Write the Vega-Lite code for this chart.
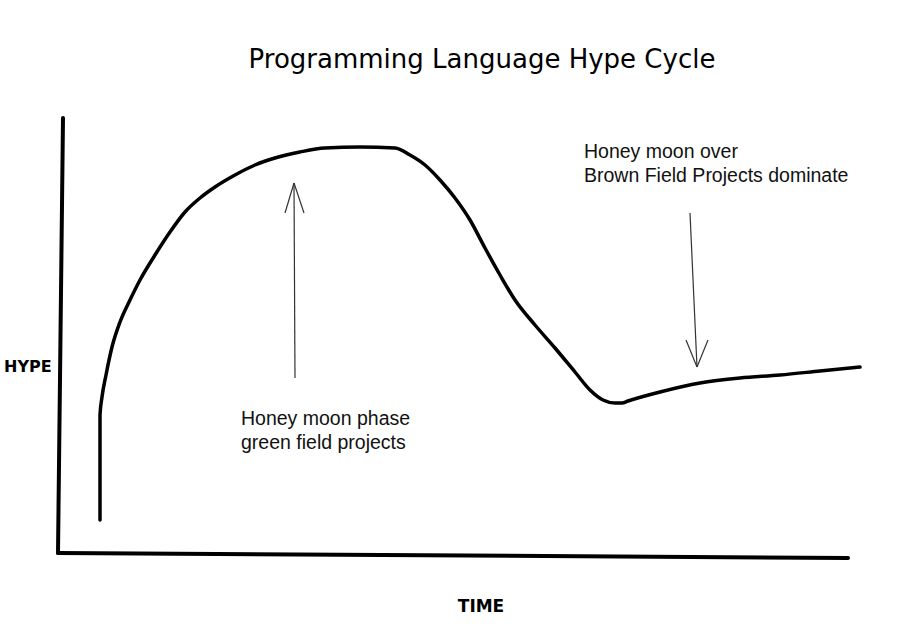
{
  "$schema": "https://vega.github.io/schema/vega-lite/v6.json",
  "width": 900,
  "height": 547,
  "autosize": {"type": "none"},
  "padding": {"top": 90, "left": 0, "right": 0, "bottom": 0},
  "background": "white",
  "config": {"view": {"stroke": null}},
  "title": {
    "text": "Programming Language Hype Cycle",
    "font": "DejaVu Sans",
    "fontSize": 26,
    "fontWeight": "normal",
    "color": "black",
    "anchor": "middle",
    "dx": 32,
    "dy": 3,
    "offset": 20
  },
  "datasets": {
    "curve": [
      {"time": 100, "hype": 117}, {"time": 100, "hype": 222}, {"time": 102, "hype": 240},
      {"time": 106, "hype": 262}, {"time": 112, "hype": 290}, {"time": 120, "hype": 315},
      {"time": 130, "hype": 337}, {"time": 140, "hype": 357}, {"time": 155, "hype": 382},
      {"time": 170, "hype": 405}, {"time": 185, "hype": 425}, {"time": 200, "hype": 439},
      {"time": 215, "hype": 450}, {"time": 235, "hype": 462}, {"time": 255, "hype": 472},
      {"time": 275, "hype": 479}, {"time": 300, "hype": 485}, {"time": 325, "hype": 489},
      {"time": 360, "hype": 490}, {"time": 395, "hype": 489}, {"time": 410, "hype": 482},
      {"time": 425, "hype": 472}, {"time": 440, "hype": 457}, {"time": 455, "hype": 439},
      {"time": 470, "hype": 417}, {"time": 485, "hype": 389}, {"time": 500, "hype": 362},
      {"time": 515, "hype": 337}, {"time": 535, "hype": 312}, {"time": 555, "hype": 289},
      {"time": 575, "hype": 265}, {"time": 590, "hype": 247}, {"time": 603, "hype": 237},
      {"time": 615, "hype": 234}, {"time": 622, "hype": 234}, {"time": 628, "hype": 236},
      {"time": 660, "hype": 245}, {"time": 700, "hype": 254}, {"time": 740, "hype": 259},
      {"time": 780, "hype": 262}, {"time": 820, "hype": 266}, {"time": 860, "hype": 270}
    ],
    "axes": [
      {"t1": 63, "h1": 519, "t2": 58, "h2": 84},
      {"t1": 58, "h1": 84, "t2": 848, "h2": 79}
    ],
    "arrows": [
      {"t1": 295, "h1": 259, "t2": 294, "h2": 454},
      {"t1": 294, "h1": 454, "t2": 285, "h2": 424},
      {"t1": 294, "h1": 454, "t2": 304, "h2": 424},
      {"t1": 690, "h1": 424, "t2": 697, "h2": 270},
      {"t1": 697, "h1": 270, "t2": 686, "h2": 297},
      {"t1": 697, "h1": 270, "t2": 708, "h2": 297}
    ],
    "notes": [
      {"time": 241, "hype": 212, "note": "Honey moon phase\ngreen field projects"},
      {"time": 584, "hype": 479, "note": "Honey moon over\nBrown Field Projects dominate"}
    ],
    "ylabel": [{"time": 4, "hype": 265, "label": "HYPE"}],
    "xlabel": [{"time": 481, "hype": 25, "label": "TIME"}]
  },
  "layer": [
    {
      "data": {"name": "axes"},
      "mark": {"type": "rule", "strokeWidth": 4, "color": "black", "strokeCap": "round"},
      "encoding": {
        "x": {"field": "t1", "type": "quantitative", "scale": {"domain": [0, 900]}, "axis": null},
        "y": {"field": "h1", "type": "quantitative", "scale": {"domain": [0, 547]}, "axis": null},
        "x2": {"field": "t2"},
        "y2": {"field": "h2"}
      }
    },
    {
      "data": {"name": "curve"},
      "mark": {"type": "line", "strokeWidth": 3.5, "color": "black", "interpolate": "monotone", "strokeJoin": "round", "strokeCap": "round"},
      "encoding": {
        "x": {"field": "time", "type": "quantitative", "scale": {"domain": [0, 900]}, "axis": null},
        "y": {"field": "hype", "type": "quantitative", "scale": {"domain": [0, 547]}, "axis": null},
        "order": {"field": "time", "type": "quantitative"}
      }
    },
    {
      "data": {"name": "arrows"},
      "mark": {"type": "rule", "strokeWidth": 1.2, "color": "#333333"},
      "encoding": {
        "x": {"field": "t1", "type": "quantitative", "scale": {"domain": [0, 900]}, "axis": null},
        "y": {"field": "h1", "type": "quantitative", "scale": {"domain": [0, 547]}, "axis": null},
        "x2": {"field": "t2"},
        "y2": {"field": "h2"}
      }
    },
    {
      "data": {"name": "notes"},
      "mark": {"type": "text", "align": "left", "baseline": "alphabetic", "font": "Liberation Sans", "fontSize": 19.5, "lineHeight": 24, "lineBreak": "\n", "color": "#111111"},
      "encoding": {
        "x": {"field": "time", "type": "quantitative", "scale": {"domain": [0, 900]}, "axis": null},
        "y": {"field": "hype", "type": "quantitative", "scale": {"domain": [0, 547]}, "axis": null},
        "text": {"field": "note"}
      }
    },
    {
      "data": {"name": "ylabel"},
      "mark": {"type": "text", "align": "left", "baseline": "alphabetic", "font": "DejaVu Sans", "fontSize": 16, "fontWeight": "bold", "color": "black"},
      "encoding": {
        "x": {"field": "time", "type": "quantitative", "scale": {"domain": [0, 900]}, "axis": null},
        "y": {"field": "hype", "type": "quantitative", "scale": {"domain": [0, 547]}, "axis": null},
        "text": {"field": "label"}
      }
    },
    {
      "data": {"name": "xlabel"},
      "mark": {"type": "text", "align": "center", "baseline": "alphabetic", "font": "DejaVu Sans", "fontSize": 17, "fontWeight": "bold", "color": "black"},
      "encoding": {
        "x": {"field": "time", "type": "quantitative", "scale": {"domain": [0, 900]}, "axis": null},
        "y": {"field": "hype", "type": "quantitative", "scale": {"domain": [0, 547]}, "axis": null},
        "text": {"field": "label"}
      }
    }
  ]
}
